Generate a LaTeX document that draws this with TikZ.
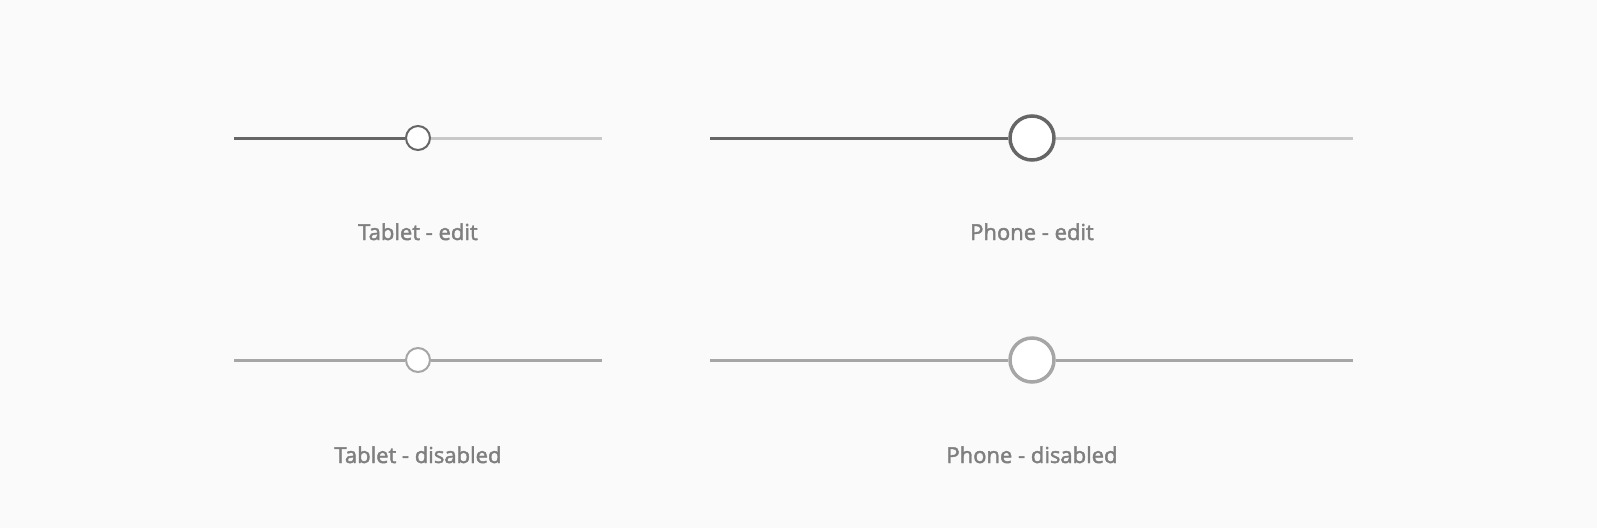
\documentclass[tikz,border=0pt]{standalone}
\usepackage{fontspec}
\setmainfont{Open Sans}
\newfontfamily\capfont[FakeBold=2]{Open Sans}
\usetikzlibrary{positioning}
\definecolor{pagebg}{HTML}{FAFAFA}
\definecolor{trackon}{HTML}{666666}
\definecolor{trackoff}{HTML}{C8C8C8}
\definecolor{trackdis}{HTML}{A6A6A6}
\definecolor{captiongray}{HTML}{7F7F7F}

\tikzset{
  tabthumb/.style={circle, draw, fill=white, line width=2pt, minimum size=24pt, inner sep=0pt},
  phonethumb/.style={circle, draw, fill=white, line width=3.5pt, minimum size=44pt, inner sep=0pt},
  trk/.style={line width=3pt},
  caption/.style={anchor=base, text=captiongray, font=\capfont\fontsize{22}{26}\selectfont}
}

\begin{document}
\begin{tikzpicture}[x=1pt,y=-1pt]
\fill[pagebg] (0,0) rectangle (1597,528);
% tablet - edit
\coordinate (tes) at (234,138);
\coordinate (tee) at (602,138);
\node[tabthumb, draw=trackon] (te) at (418,138) {};
\draw[trk, trackon] (tes) -- (te);
\draw[trk, trackoff] (te) -- (tee);
\node[caption] (tecap) at (418,240) {Tablet - edit};
% phone - edit
\coordinate (pes) at (710,138);
\coordinate (pee) at (1353,138);
\node[phonethumb, draw=trackon] (pe) at (1032,138) {};
\draw[trk, trackon] (pes) -- (pe);
\draw[trk, trackoff] (pe) -- (pee);
\node[caption] (pecap) at (1032,240) {Phone - edit};
% tablet - disabled
\coordinate (tds) at (234,360);
\coordinate (tde) at (602,360);
\node[tabthumb, draw=trackdis] (td) at (418,360) {};
\draw[trk, trackdis] (tds) -- (td);
\draw[trk, trackdis] (td) -- (tde);
\node[caption] (tdcap) at (418,463) {Tablet - disabled};
% phone - disabled
\coordinate (pds) at (710,360);
\coordinate (pde) at (1353,360);
\node[phonethumb, draw=trackdis] (pd) at (1032,360) {};
\draw[trk, trackdis] (pds) -- (pd);
\draw[trk, trackdis] (pd) -- (pde);
\node[caption] (pdcap) at (1032,463) {Phone - disabled};
\end{tikzpicture}
\end{document}
